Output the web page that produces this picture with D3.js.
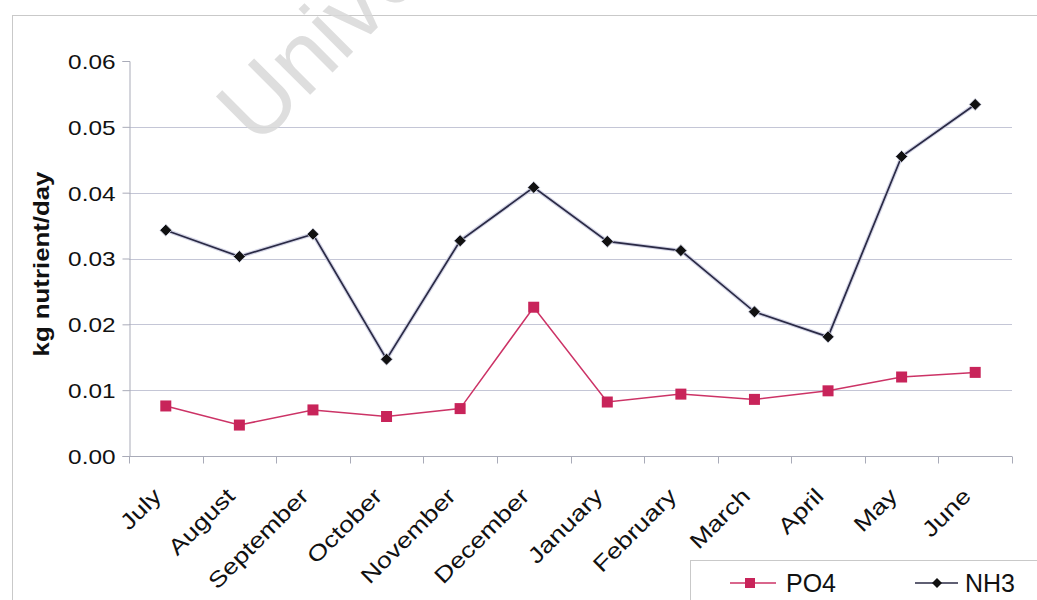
<!DOCTYPE html>
<html>
<head>
<meta charset="utf-8">
<script src="https://cdn.jsdelivr.net/npm/d3@7"></script>
<style>
  html, body { margin: 0; padding: 0; background: #fff; }
  svg { display: block; }
  text { font-family: "Liberation Sans", Arial, sans-serif; }
</style>
</head>
<body>
<svg id="chart" width="1037" height="600"></svg>
<script>
// Monthly nutrient loads (kg/day)
const months = ["July", "August", "September", "October", "November", "December",
                "January", "February", "March", "April", "May", "June"];
const po4 = [0.0076, 0.0047, 0.0070, 0.0060, 0.0072, 0.0226,
             0.0082, 0.0094, 0.0086, 0.0099, 0.0120, 0.0127];
const nh3 = [0.0343, 0.0303, 0.0337, 0.0147, 0.0327, 0.0408,
             0.0326, 0.0312, 0.0219, 0.0181, 0.0455, 0.0534];
const yTicks = [0, 0.01, 0.02, 0.03, 0.04, 0.05, 0.06];
const seriesNames = ["PO4", "NH3"];

const svg = d3.select("#chart");
const W = 1037, H = 600;
const plot = { left: 129, right: 1012, top: 61, bottom: 456 };

// Chart frame
svg.append("rect")
  .attr("x", 12.5).attr("y", 15.5)
  .attr("width", W + 10).attr("height", H - 15 + 10)
  .attr("fill", "none").attr("stroke", "#c9c9c9").attr("stroke-width", 1);

const x = d3.scaleBand().domain(months).range([plot.left, plot.right]).paddingInner(0).paddingOuter(0);
const y = d3.scaleLinear().domain([0, 0.06]).range([plot.bottom, plot.top]);
const cx = m => x(m) + x.bandwidth() / 2;

// Horizontal gridlines
svg.append("g")
  .selectAll("line")
  .data(yTicks.filter(t => t > 0 && t < 0.06))
  .join("line")
  .attr("x1", plot.left).attr("x2", plot.right)
  .attr("y1", d => Math.round(y(d)) + 0.5).attr("y2", d => Math.round(y(d)) + 0.5)
  .attr("stroke", "#c4c6d6").attr("stroke-width", 1);

// Y axis
const yAxis = d3.axisLeft(y).tickValues(yTicks).tickFormat(d3.format(".2f")).tickSize(7).tickPadding(7);
const gy = svg.append("g").attr("transform", `translate(${plot.left + 0.5},0)`).call(yAxis);
gy.select(".domain").attr("stroke", "#a9abb8");
gy.selectAll(".tick line").attr("stroke", "#a9abb8");
gy.selectAll(".tick text")
  .attr("fill", "#111").attr("font-size", 21)
  .attr("x", null).attr("dy", null)
  .attr("dominant-baseline", "central")
  .attr("text-anchor", "end")
  .attr("transform", "translate(-14,0) scale(1.16,1)");

// X axis with ticks on category boundaries
const gx = svg.append("g").attr("transform", `translate(0,${plot.bottom + 0.5})`);
gx.append("line")
  .attr("x1", plot.left).attr("x2", plot.right)
  .attr("stroke", "#a9abb8");
const bounds = months.map(m => x(m)).concat([plot.right]);
gx.selectAll("line.tk")
  .data(bounds)
  .join("line").attr("class", "tk")
  .attr("x1", d => Math.round(d) + 0.5).attr("x2", d => Math.round(d) + 0.5)
  .attr("y1", 0).attr("y2", 7)
  .attr("stroke", "#a9abb8");
gx.selectAll("text")
  .data(months)
  .join("text")
  .attr("transform", d => `translate(${cx(d) - 3},${41}) rotate(-45) scale(1.22,1)`)
  .attr("text-anchor", "end")
  .attr("font-size", 22)
  .attr("fill", "#111")
  .text(d => d);

// Y axis title
svg.append("text")
  .attr("transform", "translate(49,264) rotate(-90) scale(1.2,1)")
  .attr("text-anchor", "middle")
  .attr("font-size", 21.5)
  .attr("font-weight", "bold")
  .attr("fill", "#111")
  .text("kg nutrient/day");

// Series lines and markers
const line = d3.line().x((d, i) => cx(months[i])).y(d => y(d));

const nhColor = "#2a2a45", poColor = "#cc3366";

svg.append("path").datum(nh3)
  .attr("d", line).attr("fill", "none")
  .attr("stroke", "#c9cbe0").attr("stroke-width", 4).attr("opacity", 0.8);
svg.append("path").datum(nh3)
  .attr("d", line).attr("fill", "none")
  .attr("stroke", nhColor).attr("stroke-width", 1.7);

svg.append("path").datum(po4)
  .attr("d", line).attr("fill", "none")
  .attr("stroke", poColor).attr("stroke-width", 1.5);

svg.append("g").selectAll("path")
  .data(nh3)
  .join("path")
  .attr("transform", (d, i) => `translate(${cx(months[i])},${y(d)}) rotate(45)`)
  .attr("d", d3.symbol().type(d3.symbolSquare).size(72))
  .attr("fill", "#111")
  .attr("stroke", "#d6d8ea").attr("stroke-width", 0.8);

svg.append("g").selectAll("rect")
  .data(po4)
  .join("rect")
  .attr("x", (d, i) => cx(months[i]) - 5.5)
  .attr("y", d => y(d) - 5.5)
  .attr("width", 11).attr("height", 11)
  .attr("fill", "#c8245a");

// Legend
const lg = svg.append("g");
lg.append("rect")
  .attr("x", 690.5).attr("y", 560.5).attr("width", 360).attr("height", 60)
  .attr("fill", "#fff").attr("stroke", "#c9c9c9");
lg.append("line").attr("x1", 730).attr("x2", 776).attr("y1", 583).attr("y2", 583)
  .attr("stroke", poColor).attr("stroke-width", 1.5);
lg.append("rect").attr("x", 745).attr("y", 578).attr("width", 10).attr("height", 10).attr("fill", "#c8245a");
lg.append("text").attr("x", 786).attr("y", 592).attr("font-size", 25).attr("fill", "#111").text(seriesNames[0]);
lg.append("line").attr("x1", 915).attr("x2", 958).attr("y1", 583).attr("y2", 583)
  .attr("stroke", nhColor).attr("stroke-width", 1.5);
lg.append("path").attr("transform", "translate(937,583) rotate(45)")
  .attr("d", d3.symbol().type(d3.symbolSquare).size(50)).attr("fill", "#111");
lg.append("text").attr("x", 965).attr("y", 592).attr("font-size", 25).attr("fill", "#111").text(seriesNames[1]);

// Watermark
svg.append("text")
  .attr("transform", "translate(257,148) rotate(-45)")
  .attr("font-size", 95)
  .attr("fill", "#d9d9d9")
  .attr("opacity", 0.85)
  .text("University of Cape Town");
</script>
</body>
</html>
